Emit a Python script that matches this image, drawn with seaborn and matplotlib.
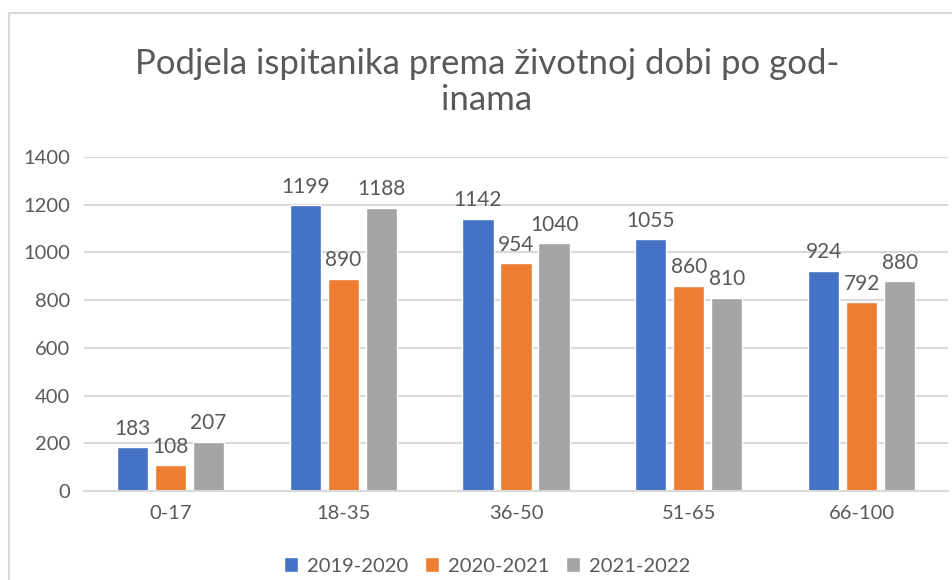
import pandas as pd
import seaborn as sns
import matplotlib.pyplot as plt
from matplotlib.patches import Patch, Rectangle

# %%
age_groups = ["0-17", "18-35", "36-50", "51-65", "66-100"]
seasons = ["2019-2020", "2020-2021", "2021-2022"]
counts_2019 = [183, 1199, 1142, 1055, 924]
counts_2020 = [108, 890, 954, 860, 792]
counts_2021 = [207, 1188, 1040, 810, 880]
colors = ["#4472C4", "#ED7D31", "#A5A5A5"]

df = pd.DataFrame({
    "age": age_groups * 3,
    "season": [s for s in seasons for _ in age_groups],
    "count": counts_2019 + counts_2020 + counts_2021,
})

# %%
sns.set_theme(style="white")
plt.rcParams["font.family"] = ["Lato", "DejaVu Sans"]
text_color = "#595959"
grid_color = "#D9D9D9"

fig = plt.figure(figsize=(9.53, 5.80), dpi=100)
ax = fig.add_axes([84 / 953, 1 - 491 / 580, (948 - 84) / 953, (491 - 157) / 580])

sns.barplot(data=df, x="age", y="count", hue="season", palette=colors,
            width=0.66, gap=0.18, saturation=1, ax=ax, legend=False)

for cont in ax.containers:
    ax.bar_label(cont, padding=6, fontsize=15, color=text_color)

ax.set_ylim(0, 1400)
ax.set_yticks(range(0, 1401, 200))
ax.set_xlabel("")
ax.set_ylabel("")
ax.yaxis.grid(True, color=grid_color, linewidth=1.5)
ax.set_axisbelow(True)
for side in ["left", "right", "top"]:
    ax.spines[side].set_visible(False)
ax.spines["bottom"].set_color(grid_color)
ax.spines["bottom"].set_linewidth(1.5)
ax.tick_params(axis="both", length=0, labelsize=14.5, labelcolor=text_color)
ax.tick_params(axis="x", pad=10)
ax.tick_params(axis="y", pad=10)

# %%
fig.text(487 / 953, 1 - 82 / 580,
         "Podjela ispitanika prema životnoj dobi po god-\ninama",
         ha="center", va="center", fontsize=25, color=text_color, linespacing=1.18)

handles = [Patch(facecolor=c, label=s) for c, s in zip(colors, seasons)]
fig.legend(handles=handles, loc="center", bbox_to_anchor=(487 / 953, 1 - 566 / 580),
           ncol=3, frameon=False, fontsize=14.5, labelcolor=text_color,
           handlelength=0.7, handleheight=0.7, handletextpad=0.42, columnspacing=0.85)

fig.patches.append(Rectangle((9 / 953, -0.1), 945 / 953, 1.1 - 13 / 580,
                             transform=fig.transFigure, fill=False,
                             edgecolor=grid_color, linewidth=1.5))

fig.savefig("out.png", dpi=100)
